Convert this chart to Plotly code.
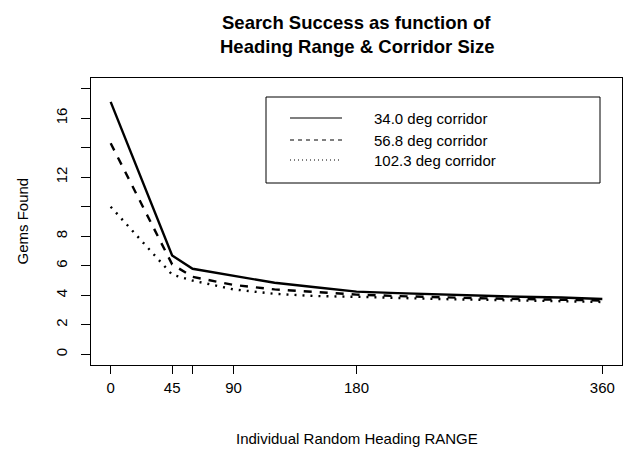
import plotly.graph_objects as go

# ---- data ----
heading_range = [0, 45, 60, 90, 120, 150, 180, 210, 240, 270, 300, 330, 360]
gems_34 = [17.1, 6.7, 5.8, 5.3, 4.85, 4.55, 4.25, 4.15, 4.05, 3.95, 3.9, 3.85, 3.75]
gems_568 = [14.3, 6.1, 5.25, 4.7, 4.4, 4.2, 4.05, 3.95, 3.85, 3.8, 3.75, 3.7, 3.65]
gems_1023 = [10.0, 5.4, 5.0, 4.4, 4.1, 3.95, 3.9, 3.8, 3.75, 3.7, 3.65, 3.6, 3.55]
series_names = ["34.0 deg corridor", "56.8 deg corridor", "102.3 deg corridor"]

x_tickvals = [0, 45, 60, 90, 180, 360]
x_ticktext = ["0", "45", "", "90", "180", "360"]
y_tickvals = [0, 2, 4, 6, 8, 10, 12, 14, 16, 18]
y_ticktext = ["0", "2", "4", "6", "8", "", "12", "", "16", ""]

W, H = 625, 449
ML, MR, MT, MB = 91, 3, 78, 84
FONT = "Liberation Sans, Arial, sans-serif"

dashes_plot = ["solid", "8px,8px", "2px,6px"]
dashes_leg = ["solid", "4px,4px", "1px,3px"]

fig = go.Figure()
for ys, name, d in zip([gems_34, gems_568, gems_1023], series_names, dashes_plot):
    fig.add_trace(go.Scatter(x=heading_range, y=ys, mode="lines", name=name,
                             line=dict(color="black", width=2.4, dash=d),
                             showlegend=False, hoverinfo="skip"))

pw = W - ML - MR
ph = H - MT - MB
def px(xp):
    return (xp - ML) / pw
def py(yp):
    return 1 - (yp - MT) / ph

shapes = []
annotations = []
# legend box
shapes.append(dict(type="rect", xref="paper", yref="paper",
                   x0=px(266), x1=px(600), y0=py(183), y1=py(97),
                   line=dict(color="black", width=1), fillcolor="white", layer="above"))
rows = [118, 140, 160]
for r, name, d in zip(rows, series_names, dashes_leg):
    shapes.append(dict(type="line", xref="paper", yref="paper",
                       x0=px(290), x1=px(342), y0=py(r), y1=py(r),
                       line=dict(color="black", width=1.2, dash=d), layer="above"))
    annotations.append(dict(text=name, xref="paper", yref="paper", x=px(372), y=py(r),
                            xanchor="left", yanchor="middle", showarrow=False,
                            font=dict(size=15, color="black", family=FONT)))

# titles
annotations.append(dict(text="<b>Search Success as function of</b>", xref="paper", yref="paper",
                        x=0.5, y=1, yshift=MT - 22, xanchor="center", yanchor="middle",
                        showarrow=False, font=dict(size=18.5, color="black", family=FONT)))
annotations.append(dict(text="<b>Heading Range & Corridor Size</b>", xref="paper", yref="paper",
                        x=0.5, y=1, yshift=MT - 46, xanchor="center", yanchor="middle",
                        showarrow=False, font=dict(size=18.5, color="black", family=FONT)))
annotations.append(dict(text="Individual Random Heading RANGE", xref="paper", yref="paper",
                        x=0.5, y=0, yshift=-(438 - (H - MB)), xanchor="center", yanchor="middle",
                        showarrow=False, font=dict(size=15, color="black", family=FONT)))
annotations.append(dict(text="Gems Found", xref="paper", yref="paper",
                        x=0, y=0.5, xshift=-(ML - 22), xanchor="center", yanchor="middle",
                        textangle=-90, showarrow=False,
                        font=dict(size=15, color="black", family=FONT)))

fig.update_layout(
    width=W, height=H,
    margin=dict(l=ML, r=MR, t=MT, b=MB, pad=0),
    paper_bgcolor="white", plot_bgcolor="white",
    font=dict(family=FONT, size=15, color="black"),
    shapes=shapes, annotations=annotations,
    xaxis=dict(range=[-14.4, 374.4], tickvals=x_tickvals, ticktext=x_ticktext,
               ticks="outside", ticklen=8, tickwidth=1, tickcolor="black",
               showline=True, linecolor="black", linewidth=1, mirror=True,
               showgrid=False, zeroline=False, ticklabelstandoff=1,
               tickfont=dict(size=15, family=FONT, color="black")),
    yaxis=dict(range=[-0.72, 18.72], tickvals=y_tickvals, ticktext=y_ticktext,
               ticks="outside", ticklen=9, tickwidth=1, tickcolor="black",
               showline=True, linecolor="black", linewidth=1, mirror=True,
               showgrid=False, zeroline=False, tickangle=-90, ticklabelstandoff=8,
               tickfont=dict(size=15, family=FONT, color="black")),
)

fig.write_html("out.html", config={"displayModeBar": False},
               post_script="document.body.style.margin='0';document.body.style.overflow='hidden';")
